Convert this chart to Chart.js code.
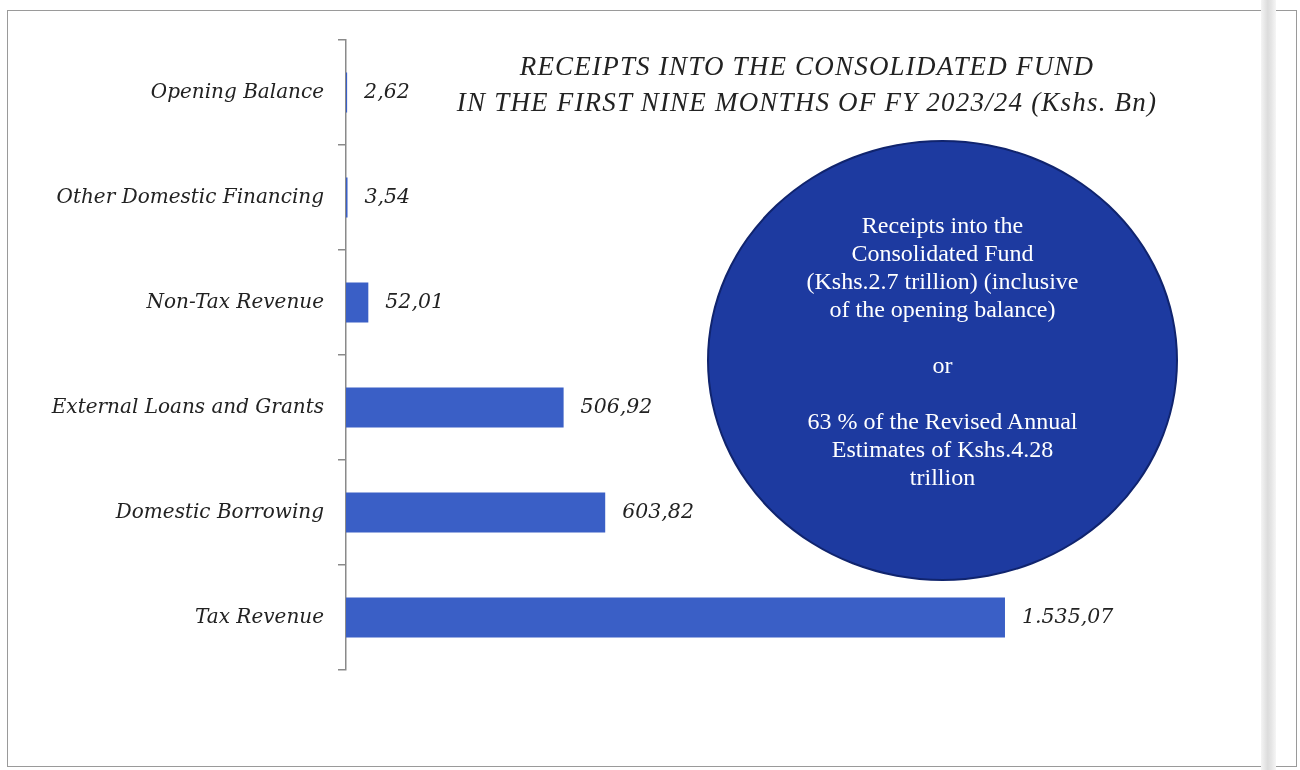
<!DOCTYPE html>
<html>
<head>
<meta charset="utf-8">
<style>
  html, body { margin: 0; padding: 0; background: #fff; }
  body { width: 1300px; height: 770px; position: relative; overflow: hidden; }
  #frame { position: absolute; left: 7px; top: 10px; width: 1290px; height: 757px; border: 1px solid #9a9a9a; box-sizing: border-box; }
  #fold { position: absolute; left: 1261px; top: 0; width: 15px; height: 770px;
          background: linear-gradient(to right, #f4f4f4, #dcdcdc 45%, #e6e6e6 70%, #f6f6f6); }
  #chartBox { position: absolute; left: 0; top: 0; width: 1300px; height: 770px; }
  #title { position: absolute; left: 407px; top: 48px; width: 800px; text-align: center;
           font-family: "Liberation Serif", serif; font-style: italic; font-size: 27px;
           line-height: 36px; letter-spacing: 1.2px; color: #222; white-space: nowrap; }
  #bubble { position: absolute; left: 707px; top: 140px; width: 471px; height: 441px;
            border-radius: 50%; background: #1d3aa0; border: 2px solid #10246e; box-sizing: border-box; }
  #bubbleText { position: absolute; left: 707px; top: 211px; width: 471px; text-align: center;
                font-family: "Liberation Serif", serif; font-size: 24px; line-height: 28px; color: #fff; }
</style>
</head>
<body>
<div id="frame"></div>
<div id="fold"></div>
<div id="bubble"></div>
<div id="chartBox"><canvas id="myChart"></canvas></div>
<div id="title">RECEIPTS INTO THE CONSOLIDATED FUND<br>IN THE FIRST NINE MONTHS OF FY 2023/24 (Kshs. Bn)</div>
<div id="bubbleText">Receipts into the<br>Consolidated Fund<br>(Kshs.2.7 trillion) (inclusive<br>of the opening balance)<br><br>or<br><br>63 % of the Revised Annual<br>Estimates of Kshs.4.28<br>trillion</div>

<script src="https://cdn.jsdelivr.net/npm/chart.js"></script>
<script>
    // receipts, Kshs. Bn
    const categories = [
        'Opening Balance',
        'Other Domestic Financing',
        'Non-Tax Revenue',
        'External Loans and Grants',
        'Domestic Borrowing',
        'Tax Revenue'
    ];
    const receipts = [2.62, 3.54, 52.01, 506.92, 603.82, 1535.07];
    const xMax = 2100;

    const labelFont = { family: '"DejaVu Serif", serif', size: 20, style: 'italic' };

    // 1.535,07 style
    function fmt(v) {
        const parts = v.toFixed(2).split('.');
        const whole = parts[0].replace(/\B(?=(\d{3})+(?!\d))/g, '.');
        return whole + ',' + parts[1];
    }

    const valueLabels = {
        id: 'valueLabels',
        afterDatasetsDraw(chart) {
            const ctx = chart.ctx;
            const meta = chart.getDatasetMeta(0);
            ctx.save();
            ctx.font = 'italic 20.5px "DejaVu Serif", serif';
            ctx.fillStyle = '#222';
            ctx.textBaseline = 'middle';
            meta.data.forEach((bar, i) => {
                ctx.fillText(fmt(receipts[i]), bar.x + 17, bar.y);
            });
            ctx.restore();
        }
    };

    document.addEventListener('DOMContentLoaded', function() {
        const ctx = document.getElementById('myChart').getContext('2d');
        new Chart(ctx, {
            type: 'bar',
            data: {
                labels: categories,
                datasets: [{
                    data: receipts,
                    backgroundColor: '#3a5fc6',
                    barPercentage: 0.38,
                    categoryPercentage: 1
                }]
            },
            options: {
                indexAxis: 'y',
                responsive: true,
                maintainAspectRatio: false,
                animation: false,
                layout: { padding: { left: 0, top: 40, bottom: 100, right: 52.5 } },
                plugins: {
                    legend: { display: false },
                    tooltip: { enabled: false }
                },
                scales: {
                    x: { display: false, min: 0, max: xMax },
                    y: {
                        afterFit(scale) { scale.width = 346; },
                        border: { display: true, color: '#8a8a8a', width: 1.5 },
                        grid: { drawOnChartArea: false, tickLength: 8, color: '#8a8a8a', lineWidth: 1.5 },
                        ticks: { color: '#222', font: labelFont, padding: 14 }
                    }
                }
            },
            plugins: [valueLabels]
        });
    });
</script>
</body>
</html>
